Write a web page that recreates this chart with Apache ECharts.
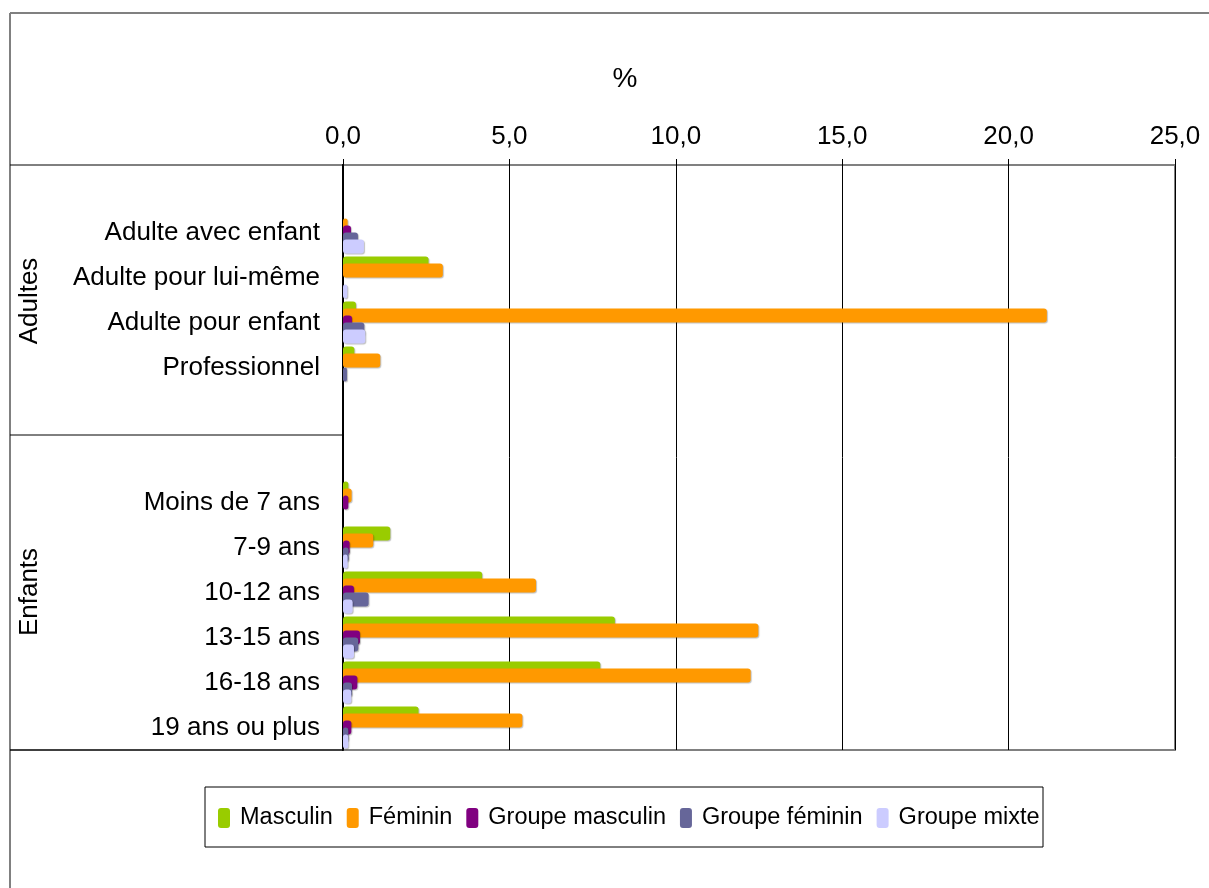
<!DOCTYPE html>
<html>
<head>
<meta charset="utf-8">
<script src="https://cdn.jsdelivr.net/npm/echarts@6/dist/echarts.min.js"></script>
<style>
  html, body { margin: 0; padding: 0; background: #fff; }
  #main { width: 1209px; height: 888px; }
</style>
</head>
<body>
<div id="main"></div>
<script>
// categories (blank slots are the spacing rows of the original)
var categories = ['', 'Adulte avec enfant', 'Adulte pour lui-même', 'Adulte pour enfant', 'Professionnel', '', '',
  'Moins de 7 ans', '7-9 ans', '10-12 ans', '13-15 ans', '16-18 ans', '19 ans ou plus'];
var seriesNames = ['Masculin', 'Féminin', 'Groupe masculin', 'Groupe féminin', 'Groupe mixte'];
var masculin       = [null, 0,    2.57, 0.39, 0.34, null, null, 0.16, 1.42, 4.18, 8.17, 7.73, 2.27];
var feminin        = [null, 0.14, 3.0,  21.15, 1.12, null, null, 0.26, 0.91, 5.80, 12.48, 12.25, 5.39];
var groupeMasculin = [null, 0.24, 0,    0.27, 0,    null, null, 0.16, 0.20, 0.33, 0.51, 0.43, 0.25];
var groupeFeminin  = [null, 0.45, 0,    0.64, 0.12, null, null, 0,    0.17, 0.77, 0.46, 0.27, 0.16];
var groupeMixte    = [null, 0.63, 0.13, 0.67, 0,    null, null, 0,    0.14, 0.29, 0.33, 0.25, 0.16];
var xTicks = [0, 5, 10, 15, 20, 25];

var colors = ['#99CC00', '#FF9900', '#800080', '#666699', '#CCCCFF'];
var font = "'Liberation Sans', Arial, sans-serif";

var chart = echarts.init(document.getElementById('main'));

var allData = [masculin, feminin, groupeMasculin, groupeFeminin, groupeMixte];
var series = allData.map(function(d, i) {
  return {
    name: seriesNames[i],
    type: 'bar',
    data: d,
    barWidth: 14,
    barGap: '-50%',
    itemStyle: {
      color: colors[i],
      borderRadius: 3,
      shadowColor: 'rgba(0,0,0,0.25)',
      shadowOffsetX: 1,
      shadowOffsetY: 1,
      shadowBlur: 1
    }
  };
});

function line(x1, y1, x2, y2, color, w) {
  return {
    type: 'line',
    shape: { x1: x1, y1: y1, x2: x2, y2: y2 },
    style: { stroke: color, lineWidth: w },
    z: 10
  };
}

var option = {
  animation: false,
  backgroundColor: '#fff',
  textStyle: { fontFamily: font },
  grid: {
    left: 343,
    right: 34,
    top: 165,
    bottom: 138,
    show: true,
    borderColor: '#808080',
    borderWidth: 2
  },
  xAxis: {
    type: 'value',
    position: 'top',
    min: xTicks[0],
    max: xTicks[xTicks.length - 1],
    interval: 5,
    axisLine: { show: false },
    axisTick: { show: true, length: 6, lineStyle: { color: '#000' } },
    axisLabel: {
      fontSize: 26,
      color: '#000',
      fontFamily: font,
      margin: 15,
      formatter: function(v) { return v.toFixed(1).replace('.', ','); }
    },
    splitLine: { show: true, lineStyle: { color: '#000', width: 1 } }
  },
  yAxis: {
    type: 'category',
    data: categories,
    inverse: true,
    axisLine: { show: true, lineStyle: { color: '#000', width: 2 } },
    axisTick: { show: false },
    axisLabel: { fontSize: 26, color: '#000', fontFamily: font, margin: 23 }
  },
  legend: {
    left: 213,
    top: 801,
    itemWidth: 12,
    itemHeight: 20,
    itemGap: 14,
    icon: 'roundRect',
    textStyle: { fontSize: 23.5, color: '#000', fontFamily: font, padding: [0, 0, 0, 5] },
    data: seriesNames
  },
  graphic: [
    line(10, 13, 1209, 13, '#808080', 2),
    line(10, 13, 10, 888, '#808080', 2),
    line(10, 165, 343, 165, '#000', 1),
    line(10, 435, 343, 435, '#000', 1),
    line(10, 750, 343, 750, '#000', 1.5),
    {
      type: 'rect',
      shape: { x: 205, y: 787, width: 838, height: 60 },
      style: { fill: 'none', stroke: '#000', lineWidth: 1 }
    },
    {
      type: 'text',
      x: 625, y: 79,
      style: { text: '%', fontSize: 28, fill: '#000', fontFamily: font, align: 'center', verticalAlign: 'middle' }
    },
    {
      type: 'text',
      x: 30, y: 301, rotation: Math.PI / 2,
      style: { text: 'Adultes', fontSize: 26, fill: '#000', fontFamily: font, align: 'center', verticalAlign: 'middle' }
    },
    {
      type: 'text',
      x: 30, y: 592, rotation: Math.PI / 2,
      style: { text: 'Enfants', fontSize: 26, fill: '#000', fontFamily: font, align: 'center', verticalAlign: 'middle' }
    }
  ],
  series: series
};

chart.setOption(option);
</script>
</body>
</html>
